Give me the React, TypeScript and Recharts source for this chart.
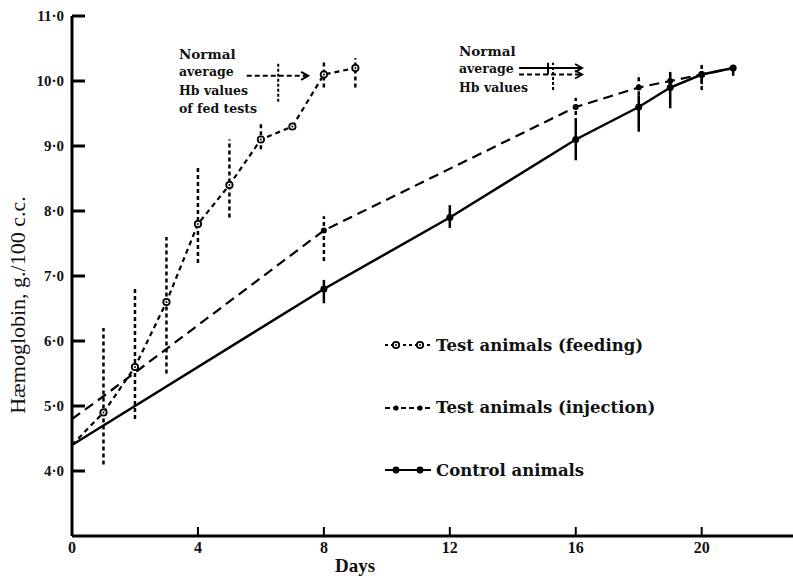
import React from 'react';
import { LineChart, Line, XAxis, YAxis, ErrorBar, ReferenceLine } from 'recharts';

// feeding tests (open circles, dotted)
const feedingDays = [0, 1, 2, 3, 4, 5, 6, 7, 8, 9];
const feedingHb = [4.4, 4.9, 5.6, 6.6, 7.8, 8.4, 9.1, 9.3, 10.1, 10.2];
const feedingErr = [[0, 0], [0, 0], [0.8, 1.2], [1.1, 1.0], [0.6, 0.9], [0.5, 0.7], [0.15, 0.25], [0, 0], [0.2, 0.2], [0.3, 0.15]];

// injection tests (small dots, dashed)
const injectionDays = [0, 1, 8, 16, 18, 19, 20, 21];
const injectionHb = [4.8, 5.15, 7.7, 9.6, 9.9, 10.0, 10.1, 10.2];
const injectionErr = [[0, 0], [1.05, 1.05], [0.47, 0.22], [0.23, 0.14], [0.12, 0.19], [0.14, 0.17], [0.24, 0.15], [0, 0]];
const injectionMarked = [false, false, true, true, true, true, true, false];

// control animals (solid)
const controlDays = [0, 8, 12, 16, 18, 19, 20, 21];
const controlHb = [4.4, 6.8, 7.9, 9.1, 9.6, 9.9, 10.1, 10.2];
const controlErr = [[0, 0], [0.22, 0.14], [0.16, 0.19], [0.32, 0.27], [0.38, 0.18], [0.32, 0.19], [0.15, 0.05], [0.12, 0]];

const xTicks = [0, 4, 8, 12, 16, 20];
const yTicks = [4, 5, 6, 7, 8, 9, 10, 11];

// "normal average" markers: [day1, hb1, day2, hb2]
const fedNormalArrow = [5.55, 10.08, 7.5, 10.08];
const fedNormalBar = [6.55, 9.68, 6.55, 10.28];
const normalSolidArrow = [14.2, 10.2, 16.2, 10.2];
const normalDashedArrow = [14.2, 10.1, 16.2, 10.1];
const normalBar = [15.28, 9.86, 15.28, 10.28];
const normalTick = [15.12, 10.1, 15.12, 10.28];

const fedNote = ['Normal', 'average', 'Hb values', 'of fed tests'];
const normalNote = ['Normal', 'average', 'Hb values'];

const legendItems = [
  { name: 'Test animals (feeding)', dash: '3 3', dot: 'open' },
  { name: 'Test animals (injection)', dash: '5 3', dot: 'small' },
  { name: 'Control animals', dash: undefined, dot: 'filled' },
];

const build = (days: number[], hb: number[], err: number[][], marked?: boolean[]) =>
  days.map((d, i) => ({ day: d, hb: hb[i], err: err[i], marked: marked ? marked[i] : i > 0 }));

const feedingData = build(feedingDays, feedingHb, feedingErr);
const injectionData = build(injectionDays, injectionHb, injectionErr, injectionMarked);
const controlData = build(controlDays, controlHb, controlErr);

const FONT = "'Liberation Serif', 'DejaVu Serif', serif";
const WIDE_FONT = "'DejaVu Serif', 'Liberation Serif', serif";
const AXIS_X = 72;
const AXIS_Y = 536;

const YTick = (props: any) => {
  const { y, payload } = props;
  return (
    <g>
      <line x1={AXIS_X} x2={AXIS_X + 13} y1={y} y2={y} stroke="#000" strokeWidth={3} />
      <text x={AXIS_X - 8} y={y} dy={5} textAnchor="end" fontFamily={FONT} fontWeight="bold" fontSize={15} fill="#111">
        {`${payload.value}·0`}
      </text>
    </g>
  );
};

const XTick = (props: any) => {
  const { x, payload } = props;
  return (
    <g>
      <line x1={x} x2={x} y1={AXIS_Y} y2={AXIS_Y - 9} stroke="#000" strokeWidth={2} />
      <text x={x} y={AXIS_Y + 17} textAnchor="middle" fontFamily={FONT} fontWeight="bold" fontSize={16} fill="#111">
        {payload.value}
      </text>
    </g>
  );
};

const openDot = (p: any) =>
  p.payload.marked ? (
    <g key={`f-${p.index}`}>
      <circle cx={p.cx} cy={p.cy} r={3.2} fill="#fff" stroke="#000" strokeWidth={1.8} />
      <circle cx={p.cx} cy={p.cy} r={1} fill="#000" />
    </g>
  ) : (
    <g key={`f-${p.index}`} />
  );

const smallDot = (p: any) =>
  p.payload.marked ? <circle key={`i-${p.index}`} cx={p.cx} cy={p.cy} r={3} fill="#000" /> : <g key={`i-${p.index}`} />;

const filledDot = (p: any) =>
  p.payload.marked ? <circle key={`c-${p.index}`} cx={p.cx} cy={p.cy} r={3.5} fill="#000" /> : <g key={`c-${p.index}`} />;

const segment = (s: number[]) => [
  { x: s[0], y: s[1] },
  { x: s[2], y: s[3] },
];

const lineShape = (dash: string | undefined, head: boolean, w = 2) => (props: any) => {
  const { x1, y1, x2, y2 } = props;
  return (
    <g>
      <line x1={x1} y1={y1} x2={x2} y2={y2} stroke="#000" strokeWidth={w} strokeDasharray={dash} />
      {head && (
        <path d={`M${x2 - 7},${y2 - 4} L${x2},${y2} L${x2 - 7},${y2 + 4}`} fill="none" stroke="#000" strokeWidth={2} />
      )}
    </g>
  );
};

const LegendSymbol = ({ dash, dot }: { dash?: string; dot: string }) => (
  <svg width={48} height={14} style={{ marginRight: 4 }}>
    <line x1={1} x2={47} y1={7} y2={7} stroke="#000" strokeWidth={2} strokeDasharray={dash} />
    {[12, 36].map((cx) =>
      dot === 'open' ? (
        <g key={cx}>
          <circle cx={cx} cy={7} r={3.2} fill="#fff" stroke="#000" strokeWidth={1.8} />
          <circle cx={cx} cy={7} r={1} fill="#000" />
        </g>
      ) : (
        <circle key={cx} cx={cx} cy={7} r={dot === 'small' ? 2.6 : 3.4} fill="#000" />
      )
    )}
  </svg>
);

const noteStyle = (left: number, top: number): React.CSSProperties => ({
  position: 'absolute',
  left,
  top,
  fontFamily: WIDE_FONT,
  fontWeight: 'bold',
  fontSize: 12.5,
  lineHeight: '18.3px',
  color: '#111',
});

export default function App() {
  return (
    <div style={{ position: 'absolute', left: 0, top: 0, width: 793, height: 576, background: '#fff' }}>
      <LineChart width={793} height={576} margin={{ top: 16, right: 0, bottom: 0, left: 0 }}>
        <XAxis
          type="number"
          dataKey="day"
          domain={[0, 22.9]}
          ticks={xTicks}
          height={40}
          axisLine={{ stroke: '#000', strokeWidth: 3 }}
          tickLine={false}
          tick={<XTick />}
          allowDuplicatedCategory={false}
        />
        <YAxis
          type="number"
          domain={[3, 11]}
          ticks={yTicks}
          width={72}
          axisLine={{ stroke: '#000', strokeWidth: 3 }}
          tickLine={false}
          tick={<YTick />}
        />
        <ReferenceLine segment={segment(fedNormalArrow)} shape={lineShape('5 3', true)} />
        <ReferenceLine segment={segment(fedNormalBar)} shape={lineShape('3 2', false)} />
        <ReferenceLine segment={segment(normalSolidArrow)} shape={lineShape(undefined, true)} />
        <ReferenceLine segment={segment(normalDashedArrow)} shape={lineShape('5 3', true)} />
        <ReferenceLine segment={segment(normalBar)} shape={lineShape('3 2', false)} />
        <ReferenceLine segment={segment(normalTick)} shape={lineShape(undefined, false)} />
        <Line
          data={controlData}
          dataKey="hb"
          stroke="#000"
          strokeWidth={2.5}
          dot={filledDot}
          isAnimationActive={false}
        >
          <ErrorBar dataKey="err" direction="y" width={0} stroke="#000" strokeWidth={2.5} />
        </Line>
        <Line
          data={injectionData}
          dataKey="hb"
          stroke="#000"
          strokeWidth={2.2}
          strokeDasharray="10 6"
          dot={smallDot}
          isAnimationActive={false}
        >
          <ErrorBar dataKey="err" direction="y" width={0} stroke="#000" strokeWidth={2.5} strokeDasharray="4 3" />
        </Line>
        <Line
          data={feedingData}
          dataKey="hb"
          stroke="#000"
          strokeWidth={2.2}
          strokeDasharray="5 4"
          dot={openDot}
          isAnimationActive={false}
        >
          <ErrorBar dataKey="err" direction="y" width={0} stroke="#000" strokeWidth={2.5} strokeDasharray="4 3" />
        </Line>
      </LineChart>
      <div style={{ position: 'absolute', left: 384, top: 314, fontFamily: WIDE_FONT }}>
        {legendItems.map((item) => (
          <div key={item.name} style={{ display: 'flex', alignItems: 'center', height: 62.5 }}>
            <LegendSymbol dash={item.dash} dot={item.dot} />
            <span style={{ fontSize: 16.5, fontWeight: 'bold', color: '#111' }}>{item.name}</span>
          </div>
        ))}
      </div>
      <div style={noteStyle(179, 45)}>
        {fedNote.map((t, i) => (
          <div key={t} style={{ fontSize: i === 0 ? 13.5 : 12.5 }}>{t}</div>
        ))}
      </div>
      <div style={noteStyle(459, 42)}>
        {normalNote.map((t, i) => (
          <div key={t} style={{ fontSize: i === 0 ? 13.5 : 12.5 }}>{t}</div>
        ))}
      </div>
      <div
        style={{
          position: 'absolute',
          left: 18,
          top: 305,
          transform: 'translate(-50%, -50%) rotate(-90deg)',
          whiteSpace: 'nowrap',
          fontFamily: FONT,
          fontSize: 22,
          color: '#111',
        }}
      >
        Hæmoglobin, g./100 c.c.
      </div>
      <div
        style={{
          position: 'absolute',
          left: 355,
          top: 566,
          transform: 'translate(-50%, -50%)',
          fontFamily: FONT,
          fontWeight: 'bold',
          fontSize: 19,
          color: '#111',
        }}
      >
        Days
      </div>
    </div>
  );
}
